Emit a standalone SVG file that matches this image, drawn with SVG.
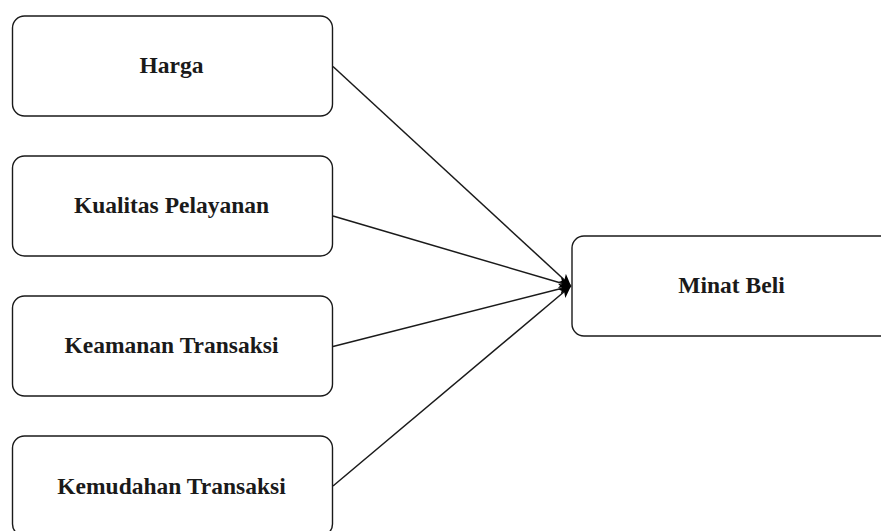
<svg xmlns="http://www.w3.org/2000/svg" width="881" height="531" viewBox="0 0 881 531">
<style>
.box{fill:#ffffff;stroke:#1a1a1a;stroke-width:1.4}
.lbl{font-family:"Liberation Serif","Times New Roman",serif;font-weight:bold;font-size:23.5px;fill:#1a1a1a;text-anchor:middle}
.edge{fill:none;stroke:#1a1a1a;stroke-width:1.5}
</style>
<defs>
<marker id="arr" markerWidth="14" markerHeight="14" refX="12" refY="6" orient="auto" markerUnits="userSpaceOnUse">
<path d="M0,0.5 L12,6 L0,11.5 L3,6 Z" fill="#000000"/>
</marker>
</defs>
<rect width="881" height="531" fill="#ffffff"/>
<g id="connectors">
<path class="edge" d="M333,66.5 L571,286" marker-end="url(#arr)"/>
<path class="edge" d="M333,216 L571,286" marker-end="url(#arr)"/>
<path class="edge" d="M333,346.5 L571,286" marker-end="url(#arr)"/>
<path class="edge" d="M333,486 L571,286" marker-end="url(#arr)"/>
</g>
<g id="harga">
<rect class="box" x="12.5" y="16" width="320" height="100" rx="12"/>
<text class="lbl" x="171.5" y="73">Harga</text>
</g>
<g id="kualitas">
<rect class="box" x="12.5" y="156" width="320" height="100" rx="12"/>
<text class="lbl" x="171.5" y="213">Kualitas Pelayanan</text>
</g>
<g id="keamanan">
<rect class="box" x="12.5" y="296" width="320" height="100" rx="12"/>
<text class="lbl" x="171.5" y="353">Keamanan Transaksi</text>
</g>
<g id="kemudahan">
<rect class="box" x="12.5" y="436" width="320" height="100" rx="12"/>
<text class="lbl" x="171.5" y="494">Kemudahan Transaksi</text>
</g>
<g id="minat">
<rect class="box" x="572" y="236" width="330" height="100" rx="12"/>
<text class="lbl" x="731.5" y="293">Minat Beli</text>
</g>
</svg>
